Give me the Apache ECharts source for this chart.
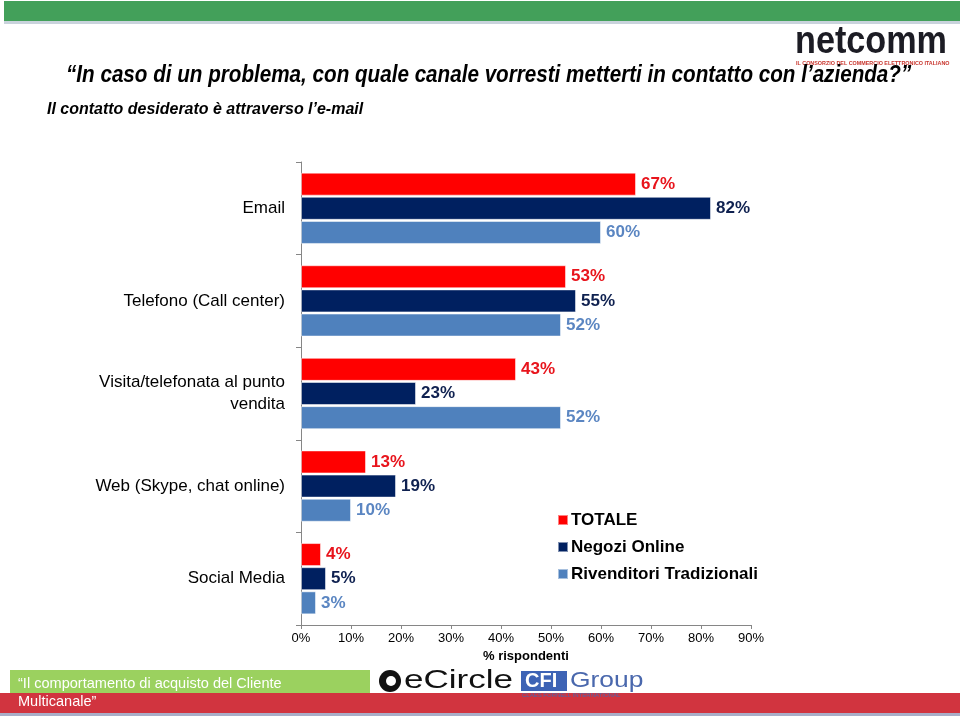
<!DOCTYPE html>
<html>
<head>
<meta charset="utf-8">
<script src="https://cdn.jsdelivr.net/npm/echarts@6/dist/echarts.min.js"></script>
<style>
  html, body { margin: 0; padding: 0; background: #fff; }
  #chart { width: 960px; height: 716px; }
</style>
</head>
<body>
<div id="chart"></div>
<script>
// canali di contatto (dall'alto verso il basso)
var categories = ['Email', 'Telefono (Call center)', 'Visita/telefonata al punto\nvendita', 'Web (Skype, chat online)', 'Social Media'];
var seriesNames = ['TOTALE', 'Negozi Online', 'Rivenditori Tradizionali'];
var totale = [67, 53, 43, 13, 4];
var negoziOnline = [82, 55, 23, 19, 5];
var rivenditori = [60, 52, 52, 10, 3];
var xTicks = [0, 10, 20, 30, 40, 50, 60, 70, 80, 90];

var colors = ['#ff0000', '#002060', '#4f81bd'];
var labelColors = ['#e8141c', '#0f2150', '#5b86c2'];
var arial = '"Liberation Sans", Arial, sans-serif';

function makeSeries(name, data, i) {
  return {
    name: name,
    type: 'bar',
    data: data,
    barWidth: 23,
    barGap: '5%',
    itemStyle: { color: colors[i], borderColor: 'rgba(255,255,255,0.5)', borderWidth: 1 },
    label: {
      show: true,
      position: 'right',
      distance: 5,
      formatter: '{c}%',
      color: labelColors[i],
      fontFamily: arial,
      fontWeight: 'bold',
      fontSize: 17
    }
  };
}

var chart = echarts.init(document.getElementById('chart'));
chart.setOption({
  animation: false,
  backgroundColor: '#fff',
  grid: { left: 301, right: 209, top: 162, bottom: 91 },
  legend: {
    orient: 'vertical',
    left: 552,
    top: 506,
    itemWidth: 10,
    itemHeight: 10,
    itemGap: 9,
    icon: 'rect',
    data: seriesNames,
    textStyle: { fontFamily: arial, fontWeight: 'bold', fontSize: 17, color: '#000', lineHeight: 18, padding: [0, 0, 0, -2] }
  },
  xAxis: {
    type: 'value',
    min: xTicks[0],
    max: xTicks[xTicks.length - 1],
    interval: 10,
    name: '% rispondenti',
    nameLocation: 'middle',
    nameGap: 20,
    nameTextStyle: { fontFamily: arial, fontWeight: 'bold', fontSize: 13, color: '#000' },
    axisLine: { show: true, lineStyle: { color: '#868686' } },
    axisTick: { show: true, length: 4, lineStyle: { color: '#868686' } },
    axisLabel: { formatter: '{value}%', fontFamily: arial, fontSize: 13, color: '#000', margin: 7 },
    splitLine: { show: false }
  },
  yAxis: {
    type: 'category',
    data: categories,
    inverse: true,
    axisLine: { show: true, lineStyle: { color: '#868686' } },
    axisTick: { show: true, length: 5, lineStyle: { color: '#868686' } },
    axisLabel: { fontFamily: arial, fontSize: 17, color: '#000', margin: 16, align: 'right', lineHeight: 22 }
  },
  series: [
    makeSeries(seriesNames[0], totale, 0),
    makeSeries(seriesNames[1], negoziOnline, 1),
    makeSeries(seriesNames[2], rivenditori, 2)
  ],
  graphic: [
    // barra verde in alto
    { type: 'rect', shape: { x: 4, y: 21, width: 956, height: 3 }, style: { fill: '#c9d3dc' } },
    { type: 'rect', shape: { x: 4, y: 1, width: 956, height: 20 }, style: { fill: '#43a05a' } },
    // logo netcomm
    { type: 'text', x: 795, y: 24, scaleX: 0.9, style: { text: 'netcomm', fontFamily: arial, fontSize: 38, fontWeight: 'bold', fill: '#1c1c24' } },
    { type: 'text', x: 796, y: 61, style: { text: 'IL CONSORZIO DEL COMMERCIO ELETTRONICO ITALIANO', fontFamily: arial, fontSize: 5.4, fontWeight: 'bold', fill: '#c8352d' } },
    // titolo e sottotitolo
    { type: 'text', x: 66, y: 63, scaleX: 0.86, style: { text: '\u201CIn caso di un problema, con quale canale vorresti metterti in contatto con l\u2019azienda?\u201D', fontFamily: arial, fontStyle: 'italic', fontWeight: 'bold', fontSize: 24, fill: '#000' } },
    { type: 'text', x: 47, y: 101, scaleX: 0.94, style: { text: 'Il contatto desiderato \u00E8 attraverso l\u2019e-mail', fontFamily: arial, fontStyle: 'italic', fontWeight: 'bold', fontSize: 17, fill: '#000' } },
    // barra rossa in basso
    { type: 'rect', shape: { x: 0, y: 693, width: 960, height: 20 }, style: { fill: '#d1343f' } },
    { type: 'rect', shape: { x: 0, y: 713, width: 960, height: 3 }, style: { fill: '#a9aec8' } },
    { type: 'rect', shape: { x: 10, y: 670, width: 360, height: 23 }, style: { fill: '#9bd15f' } },
    { type: 'text', x: 18, y: 675, scaleX: 0.97, style: { text: '\u201CIl comportamento di acquisto del Cliente\nMulticanale\u201D', fontFamily: arial, fontSize: 15, lineHeight: 18, fill: '#fff' } },
    // loghi eCircle e CFI Group
    { type: 'circle', shape: { cx: 390, cy: 681, r: 11 }, style: { fill: '#111' } },
    { type: 'circle', shape: { cx: 391, cy: 681, r: 5 }, style: { fill: '#fff' } },
    { type: 'text', x: 404, y: 669, scaleX: 1.4, style: { text: 'eCircle', fontFamily: arial, fontSize: 25, fill: '#111' } },
    { type: 'rect', shape: { x: 521, y: 671, width: 46, height: 20 }, style: { fill: '#3d63b5' } },
    { type: 'text', x: 525, y: 671, style: { text: 'CFI', fontFamily: arial, fontSize: 20, fontWeight: 'bold', fill: '#fff' } },
    { type: 'text', x: 570, y: 670, scaleX: 1.2, style: { text: 'Group', fontFamily: arial, fontSize: 22, fill: '#4a68ad' } },
    { type: 'text', x: 522, y: 692, style: { text: 'CLAES FORNELL INTERNATIONAL', fontFamily: arial, fontSize: 6, fill: '#4a68ad' } }
  ]
});
</script>
</body>
</html>
